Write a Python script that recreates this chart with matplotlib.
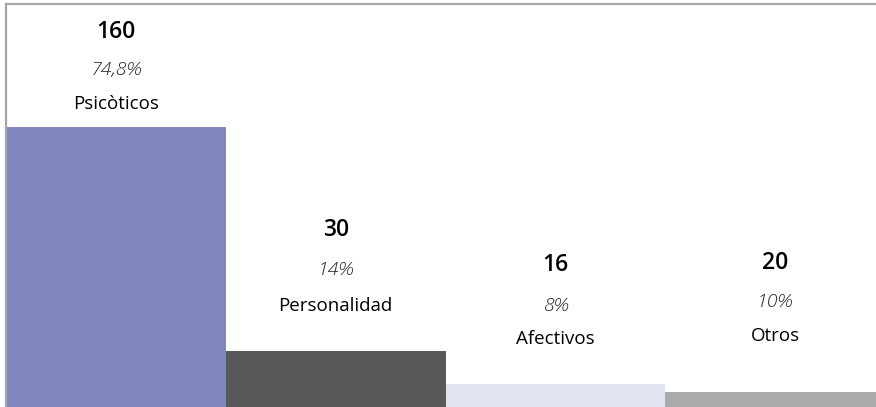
import matplotlib
matplotlib.use("Agg")
import matplotlib.pyplot as plt

# Data
categories = ["Psicòticos", "Personalidad", "Afectivos", "Otros"]
counts = [160, 30, 16, 20]
percents = ["74,8%", "14%", "8%", "10%"]
bar_heights = [160, 32, 13, 8.5]   # heights as drawn in the reference
colors = ["#7f87bc", "#585858", "#e1e3f0", "#aaaaaa"]

# Layout (label positions in data units)
count_y = [214, 101, 81, 82.2]
pct_y = [192.3, 78.2, 57.6, 59.9]
label_y = [172.9, 57.6, 38.8, 40.5]

W, H = 876, 407
fig = plt.figure(figsize=(W / 100, H / 100), dpi=100)
left_px, top_px = 6, 4.3
unit_px = 219.8
ax = fig.add_axes([left_px / W, 0, 4 * unit_px / W, (H - top_px) / H])

x = list(range(len(categories)))
ax.bar(x, bar_heights, width=1.0, align="edge", color=colors, linewidth=0)
ax.set_xlim(0, 4)
ax.set_ylim(0, 230)

for s in ["bottom", "right"]:
    ax.spines[s].set_visible(False)
for s in ["top", "left"]:
    ax.spines[s].set_color("#a6a6a6")
    ax.spines[s].set_linewidth(1.6)
ax.set_xticks([])
ax.set_yticks([])

fam = ["Open Sans", "DejaVu Sans"]
for i in x:
    cx = i + 0.5
    ax.text(cx, count_y[i], str(counts[i]), ha="center", va="center",
            fontsize=16.5, fontweight="semibold", family=fam, color="#000000")
    ax.text(cx, pct_y[i], percents[i], ha="center", va="center",
            fontsize=14, fontstyle="italic", fontweight="light", family=fam, color="#222222")
    ax.text(cx, label_y[i], categories[i], ha="center", va="center",
            fontsize=13.5, fontweight="normal", family=fam, color="#000000")

fig.savefig("out.png", dpi=100)
